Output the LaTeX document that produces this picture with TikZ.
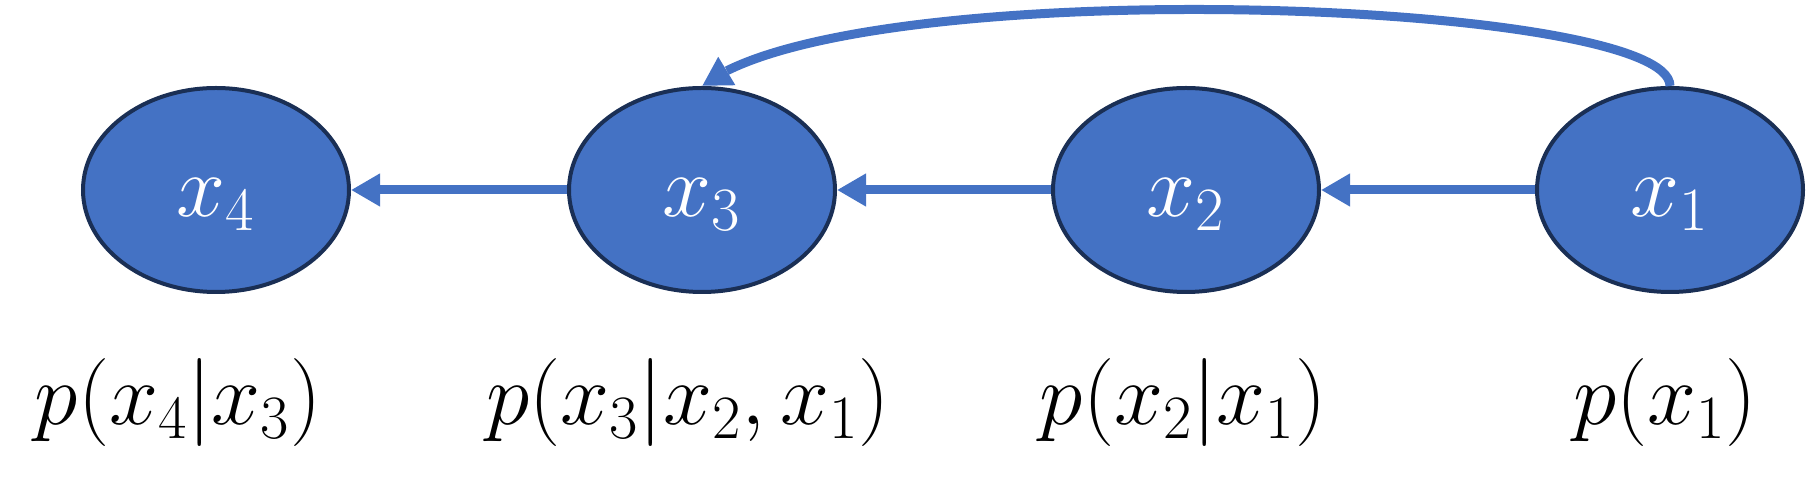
\documentclass[tikz,border=0pt]{standalone}
\usepackage{fix-cm}
\usetikzlibrary{arrows.meta,shapes.geometric,bending}
\definecolor{nodeblue}{HTML}{4472C4}
\definecolor{nodeedge}{HTML}{1A2F55}
\begin{document}
\begin{tikzpicture}[x=0.5pt,y=-0.5pt,
  var/.style={ellipse,draw=nodeedge,line width=2pt,fill=nodeblue,text=white,
    minimum width=133pt,minimum height=102pt,inner sep=0pt,
    font=\fontsize{44}{52}\selectfont,text height=30pt,text depth=3pt},
  link/.style={draw=nodeblue,line width=4.5pt,-{Triangle[length=14.5pt,width=15.5pt]}},
  lab/.style={anchor=base,font=\fontsize{44}{52}\selectfont,inner sep=0pt}]
\useasboundingbox (0,0) rectangle (1810,485);
\node[var] (x4) at (216,190) {$x_4$\hspace{10pt}};
\node[var] (x3) at (702,190) {$x_3$\hspace{10pt}};
\node[var] (x2) at (1186,190) {$x_2$\hspace{10pt}};
\node[var] (x1) at (1670,190) {$x_1$\hspace{10pt}};
\draw[link] (x3) -- (x4);
\draw[link] (x2) -- (x3);
\draw[link] (x1) -- (x2);
\draw[link] (x1.north) .. controls +(0,-87) and +(148,-116) .. (x3.north);
\node[lab] (l4) at (178,425) {$p(x_4|x_3)$};
\node[lab] (l3) at (688,425) {$p(x_3|x_2,x_1)$};
\node[lab] (l2) at (1183,425) {$p(x_2|x_1)$};
\node[lab] (l1) at (1665,425) {$p(x_1)$};
\end{tikzpicture}
\end{document}
